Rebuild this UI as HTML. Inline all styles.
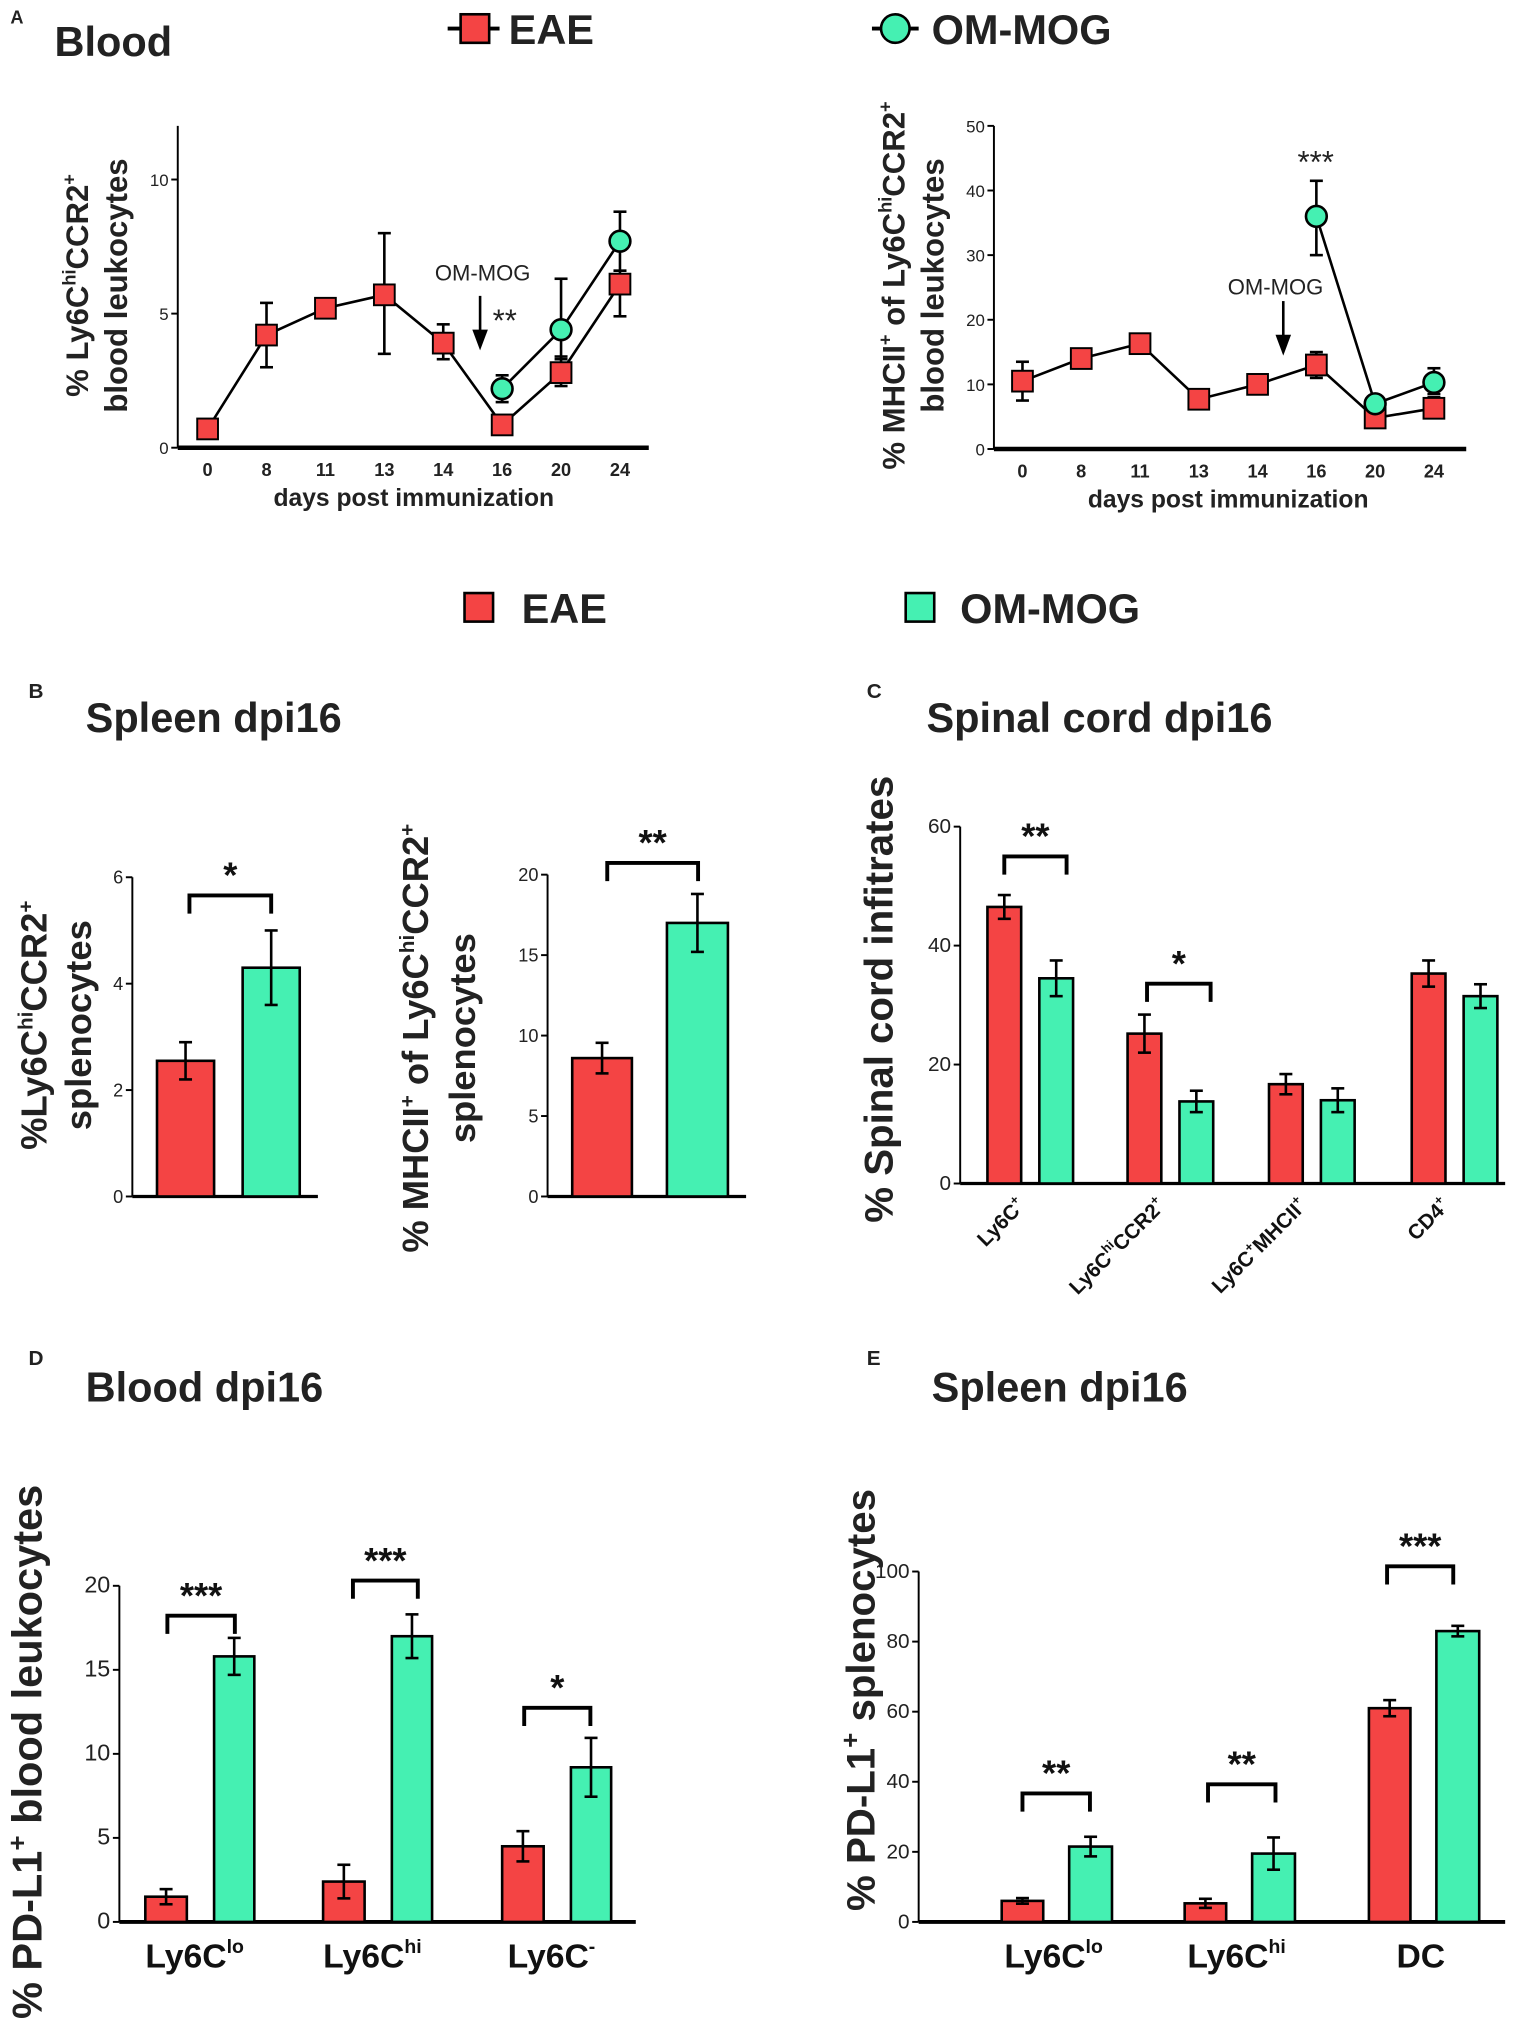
<!DOCTYPE html>
<html><head><meta charset="utf-8"><style>
html,body{margin:0;padding:0;background:#fff;}
svg{display:block;font-family:"Liberation Sans",Arial,sans-serif;}
</style></head><body>
<svg id="fig" width="1535" height="2040" viewBox="0 0 1183 1572" preserveAspectRatio="none" xmlns="http://www.w3.org/2000/svg"></svg>
<script>
// ---------- data ----------
const daysCats = ["0","8","11","13","14","16","20","24"];
const a1Eae = [0.7,4.2,5.2,5.7,3.9,0.85,2.8,6.1];
const a1EaeLo = [0.7,3.0,4.9,3.5,3.3,0.85,2.3,4.9];
const a1EaeHi = [0.7,5.4,5.5,8.0,4.6,0.85,3.4,6.6];
const a1OmIdx = [5,6,7];
const a1Om = [2.2,4.4,7.7];
const a1OmLo = [1.7,3.3,6.6];
const a1OmHi = [2.7,6.3,8.8];
const a1Ticks = [0,5,10];
const a2Eae = [10.5,14,16.3,7.7,10,13,4.8,6.3];
const a2EaeLo = [7.5,13.3,15.5,7.0,9.3,11,4.0,5.0];
const a2EaeHi = [13.5,14.7,17.0,8.4,10.7,15,5.6,8.0];
const a2Om = [36,7,10.3];
const a2OmLo = [30,6.2,8.5];
const a2OmHi = [41.5,7.8,12.5];
const a2Ticks = [0,10,20,30,40,50];
const b1Vals = [2.55,4.3];
const b1Err = [0.35,0.7];
const b1Ticks = [0,2,4,6];
const b2Vals = [8.6,17];
const b2Err = [0.95,1.8];
const b2Ticks = [0,5,10,15,20];
const cCats = ["Ly6C+","Ly6ChiCCR2+","Ly6C+MHCII+","CD4+"];
const cEae = [46.5,25.2,16.7,35.3];
const cEaeErr = [2,3.2,1.7,2.2];
const cOm = [34.5,13.8,14,31.5];
const cOmErr = [3,1.8,2,2];
const cTicks = [0,20,40,60];
const dCats = ["lo","hi","-"];
const dEae = [1.5,2.4,4.5];
const dEaeErr = [0.45,1.0,0.9];
const dOm = [15.8,17,9.2];
const dOmErr = [1.1,1.3,1.75];
const dTicks = [0,5,10,15,20];
const eCats = ["lo","hi","DC"];
const eEae = [6,5.3,61];
const eEaeErr = [0.8,1.3,2.3];
const eOm = [21.5,19.5,83];
const eOmErr = [2.8,4.6,1.5];
const eTicks = [0,20,40,60,80,100];

const RED="#f44444", GRN="#45f0b2";
const NS="http://www.w3.org/2000/svg";
const svg=document.getElementById('fig');
function mk(tag, attrs, name, parent){
  const el=document.createElementNS(NS,tag);
  for(const k in attrs) el.setAttribute(k,attrs[k]);
  
  
  (parent||svg).appendChild(el);
  return el;
}
function txt(x,y,s,size,name,opt){
  opt=opt||{};
  const t=mk('text',{x:x,y:y,'font-size':size,'font-weight':opt.w||'bold','text-anchor':opt.a||'middle',fill:opt.fill||'#222'},name);
  if(opt.rot) t.setAttribute('transform','rotate('+opt.rot+' '+x+' '+y+')');
  t.innerHTML=s;
  return t;
}
function line(x1,y1,x2,y2,w,name){return mk('line',{x1:x1,y1:y1,x2:x2,y2:y2,stroke:'#000','stroke-width':w||2},name);}
function yAxis(x,yTop,yBot,ticks,sc,name,fs){
  line(x,yTop,x,yBot,1.5,name+'-line');
  ticks.forEach(v=>{const y=sc(v);line(x-5,y,x,y,1.5,name+'-tick');txt(x-7,y+5,v,fs||14,name+'-tick-label',{a:'end',w:'normal'});});
}
function errbar(x,y1,y2,name){line(x,y1,x,y2,2,name);line(x-5,y1,x+5,y1,2,name+'-cap');line(x-5,y2,x+5,y2,2,name+'-cap');}
function bracket(x1,x2,y,stars,name){
  mk('path',{d:`M${x1} ${y+14}V${y}H${x2}V${y+14}`,fill:'none',stroke:'#000','stroke-width':3},name);
  txt((x1+x2)/2,y-6,stars,28,name+'-stars',{fill:'#111'});
}
function bar(x,w,v,err,sc,color,name){
  mk('rect',{x:x,y:sc(v),width:w,height:sc(0)-sc(v),fill:color,stroke:'#000','stroke-width':2},name);
  errbar(x+w/2,sc(v-err),sc(v+err),name+'-error');
}

// ---------- headers / legends ----------
txt(8,18,'A',14,'panel-label-a',{a:'start'});
txt(42,43,'Blood',32,'panel-a-title',{a:'start'});
line(345,22,385,22,3,'legend-eae-line');
mk('rect',{x:355,y:11,width:22,height:22,fill:RED,stroke:'#000','stroke-width':2},'legend-eae-marker');
txt(392,34,'EAE',32,'legend-eae-label',{a:'start'});
line(672,22,708,22,3,'legend-ommog-line');
mk('circle',{cx:690,cy:22,r:11,fill:GRN,stroke:'#000','stroke-width':2},'legend-ommog-marker');
txt(718,34,'OM-MOG',32,'legend-ommog-label',{a:'start'});
mk('rect',{x:358,y:457,width:22,height:22,fill:RED,stroke:'#000','stroke-width':2},'legend2-eae-swatch');
txt(402,480,'EAE',32,'legend2-eae-label',{a:'start'});
mk('rect',{x:698,y:457,width:22,height:22,fill:GRN,stroke:'#000','stroke-width':2},'legend2-ommog-swatch');
txt(740,480,'OM-MOG',32,'legend2-ommog-label',{a:'start'});

// ---------- Panel A line charts ----------
function lineChart(cfg){
  const sc=v=>cfg.y0-(v/cfg.max)*(cfg.y0-cfg.yTop);
  const xs=i=>cfg.x0+i*cfg.dx;
  yAxis(cfg.ax,cfg.yTop,cfg.y0,cfg.ticks,sc,cfg.n+'-y-axis',13);
  line(cfg.ax,cfg.y0,cfg.axEnd,cfg.y0,3.5,cfg.n+'-x-axis');
  daysCats.forEach((d,i)=>txt(xs(i),cfg.y0+22,d,14,cfg.n+'-x-tick-label',{w:'bold'}));
  txt((cfg.x0+xs(7))/2,cfg.y0+45,'days post immunization',19,cfg.n+'-x-axis-title');
  mk('polyline',{points:cfg.eae.map((v,i)=>xs(i)+','+sc(v)).join(' '),fill:'none',stroke:'#000','stroke-width':2},cfg.n+'-eae-line');
  mk('polyline',{points:a1OmIdx.map((k,j)=>xs(k)+','+sc(cfg.om[j])).join(' '),fill:'none',stroke:'#000','stroke-width':2},cfg.n+'-ommog-line');
  cfg.eae.forEach((v,i)=>{
    if(cfg.lo[i]!==cfg.hi[i]) errbar(xs(i),sc(cfg.lo[i]),sc(cfg.hi[i]),cfg.n+'-eae-error');
    mk('rect',{x:xs(i)-8,y:sc(v)-8,width:16,height:16,fill:RED,stroke:'#000','stroke-width':1.5},cfg.n+'-eae-point');
  });
  a1OmIdx.forEach((k,j)=>{
    errbar(xs(k),sc(cfg.olo[j]),sc(cfg.ohi[j]),cfg.n+'-ommog-error');
    mk('circle',{cx:xs(k),cy:sc(cfg.om[j]),r:8,fill:GRN,stroke:'#000','stroke-width':2},cfg.n+'-ommog-point');
  });
}
lineChart({n:'a1',ax:137,yTop:97,y0:345,max:12,axEnd:500,x0:160,dx:45.4,ticks:a1Ticks,eae:a1Eae,lo:a1EaeLo,hi:a1EaeHi,om:a1Om,olo:a1OmLo,ohi:a1OmHi});
lineChart({n:'a2',ax:766,yTop:97,y0:346,max:50,axEnd:1130,x0:788,dx:45.3,ticks:a2Ticks,eae:a2Eae,lo:a2EaeLo,hi:a2EaeHi,om:a2Om,olo:a2OmLo,ohi:a2OmHi});
txt(372,216,'OM-MOG',17,'a1-annotation',{w:'normal'});
line(370,228,370,262,2,'a1-arrow');
mk('path',{d:'M364 254L370 270L376 254Z',fill:'#000'},'a1-arrowhead');
txt(389,255,'**',24,'a1-significance',{w:'normal'});
txt(983,227,'OM-MOG',17,'a2-annotation',{w:'normal'});
line(989,232,989,266,2,'a2-arrow');
mk('path',{d:'M983 258L989 274L995 258Z',fill:'#000'},'a2-arrowhead');
txt(1014,133,'***',24,'a2-significance',{w:'normal'});
txt(68,220,'% Ly6C<tspan font-size="14" dy="-10">hi</tspan><tspan dy="10">CCR2</tspan><tspan font-size="14" dy="-10">+</tspan>',24,'a1-y-axis-title',{rot:-90});
txt(98,220,'blood leukocytes',24,'a1-y-axis-title-2',{rot:-90});
txt(697,220,'% MHCII<tspan font-size="14" dy="-10">+</tspan><tspan dy="10"> of Ly6C</tspan><tspan font-size="14" dy="-10">hi</tspan><tspan dy="10">CCR2</tspan><tspan font-size="14" dy="-10">+</tspan>',24,'a2-y-axis-title',{rot:-90});
txt(727,220,'blood leukocytes',24,'a2-y-axis-title-2',{rot:-90});

// ---------- Panel B ----------
txt(22,538,'B',16,'panel-label-b',{a:'start'});
txt(66,564,'Spleen dpi16',32,'panel-b-title',{a:'start'});
(function(){
  const sc=v=>922-v/6*(922-676);
  yAxis(102,676,922,b1Ticks,sc,'b1-y-axis');
  line(102,922,245,922,2.5,'b1-x-axis');
  bar(121,44,b1Vals[0],b1Err[0],sc,RED,'b1-bar-eae');
  bar(187,44,b1Vals[1],b1Err[1],sc,GRN,'b1-bar-ommog');
  bracket(146,209,690,'*','b1-sig');
  const sc2=v=>922-v/20*(922-674);
  yAxis(422,674,922,b2Ticks,sc2,'b2-y-axis');
  line(422,922,575,922,2.5,'b2-x-axis');
  bar(441,46,b2Vals[0],b2Err[0],sc2,RED,'b2-bar-eae');
  bar(514,47,b2Vals[1],b2Err[1],sc2,GRN,'b2-bar-ommog');
  bracket(468,538,665,'**','b2-sig');
})();
txt(36,790,'%Ly6C<tspan font-size="16" dy="-11">hi</tspan><tspan dy="11">CCR2</tspan><tspan font-size="16" dy="-11">+</tspan>',28,'b1-y-axis-title',{rot:-90});
txt(70,790,'splenocytes',28,'b1-y-axis-title-2',{rot:-90});
txt(330,800,'% MHCII<tspan font-size="16" dy="-11">+</tspan><tspan dy="11"> of Ly6C</tspan><tspan font-size="16" dy="-11">hi</tspan><tspan dy="11">CCR2</tspan><tspan font-size="16" dy="-11">+</tspan>',28,'b2-y-axis-title',{rot:-90});
txt(366,800,'splenocytes',28,'b2-y-axis-title-2',{rot:-90});

// ---------- Panel C ----------
txt(668,538,'C',16,'panel-label-c',{a:'start'});
txt(714,564,'Spinal cord dpi16',32,'panel-c-title',{a:'start'});
(function(){
  const sc=v=>912-v/60*(912-637);
  const gx=[761,869,978,1088];
  yAxis(740,637,912,cTicks,sc,'c-y-axis',16);
  line(740,912,1160,912,2.5,'c-x-axis');
  cCats.forEach((c,i)=>{
    bar(gx[i],26,cEae[i],cEaeErr[i],sc,RED,'c-bar-eae');
    bar(gx[i]+40,26,cOm[i],cOmErr[i],sc,GRN,'c-bar-ommog');
  });
  const lbl=['Ly6C<tspan font-size="10" dy="-7">+</tspan>','Ly6C<tspan font-size="10" dy="-7">hi</tspan><tspan dy="7">CCR2</tspan><tspan font-size="10" dy="-7">+</tspan>','Ly6C<tspan font-size="10" dy="-7">+</tspan><tspan dy="7">MHCII</tspan><tspan font-size="10" dy="-7">+</tspan>','CD4<tspan font-size="10" dy="-7">+</tspan>'];
  cCats.forEach((c,i)=>txt(gx[i]+30,930,lbl[i],16,'c-x-tick-label',{a:'end',rot:-45,fill:'#111'}));
  bracket(774,822,660,'**','c-sig-ly6c');
  bracket(884,933,758,'*','c-sig-ccr2');
})();
txt(688,770,'% Spinal cord infitrates',31,'c-y-axis-title',{rot:-90});

// ---------- Panel D ----------
txt(22,1052,'D',16,'panel-label-d',{a:'start'});
txt(66,1080,'Blood dpi16',32,'panel-d-title',{a:'start'});
(function(){
  const sc=v=>1481-v/20*(1481-1222);
  const gx=[112,249,387];
  yAxis(92,1222,1481,dTicks,sc,'d-y-axis',18);
  line(92,1481,490,1481,3,'d-x-axis');
  dCats.forEach((c,i)=>{
    bar(gx[i],32,dEae[i],dEaeErr[i],sc,RED,'d-bar-eae');
    bar(gx[i]+53,31,dOm[i],dOmErr[i],sc,GRN,'d-bar-ommog');
    txt(gx[i]+38,1516,'Ly6C<tspan font-size="15" dy="-11">'+c+'</tspan>',26,'d-x-tick-label',{fill:'#111'});
  });
  bracket(129,181,1245,'***','d-sig-lo');
  bracket(272,322,1218,'***','d-sig-hi');
  bracket(404,455,1316,'*','d-sig-neg');
})();
txt(32,1350,'% PD-L1<tspan font-size="20" dy="-12">+</tspan><tspan dy="12"> blood leukocytes</tspan>',32,'d-y-axis-title',{rot:-90});

// ---------- Panel E ----------
txt(668,1052,'E',16,'panel-label-e',{a:'start'});
txt(718,1080,'Spleen dpi16',32,'panel-e-title',{a:'start'});
(function(){
  const sc=v=>1481-v/100*(1481-1211);
  const gx=[772,913,1055];
  yAxis(708,1211,1481,eTicks,sc,'e-y-axis',16);
  line(708,1481,1160,1481,3,'e-x-axis');
  eCats.forEach((c,i)=>{
    bar(gx[i],32,eEae[i],eEaeErr[i],sc,RED,'e-bar-eae');
    bar(gx[i]+52,33,eOm[i],eOmErr[i],sc,GRN,'e-bar-ommog');
    const s=c==='DC'?'DC':'Ly6C<tspan font-size="15" dy="-11">'+c+'</tspan>';
    txt(gx[i]+40,1516,s,26,'e-x-tick-label',{fill:'#111'});
  });
  bracket(788,840,1382,'**','e-sig-lo');
  bracket(931,983,1375,'**','e-sig-hi');
  bracket(1069,1120,1207,'***','e-sig-dc');
})();
txt(674,1310,'% PD-L1<tspan font-size="20" dy="-12">+</tspan><tspan dy="12"> splenocytes</tspan>',31,'e-y-axis-title',{rot:-90});
</script>
</body></html>
